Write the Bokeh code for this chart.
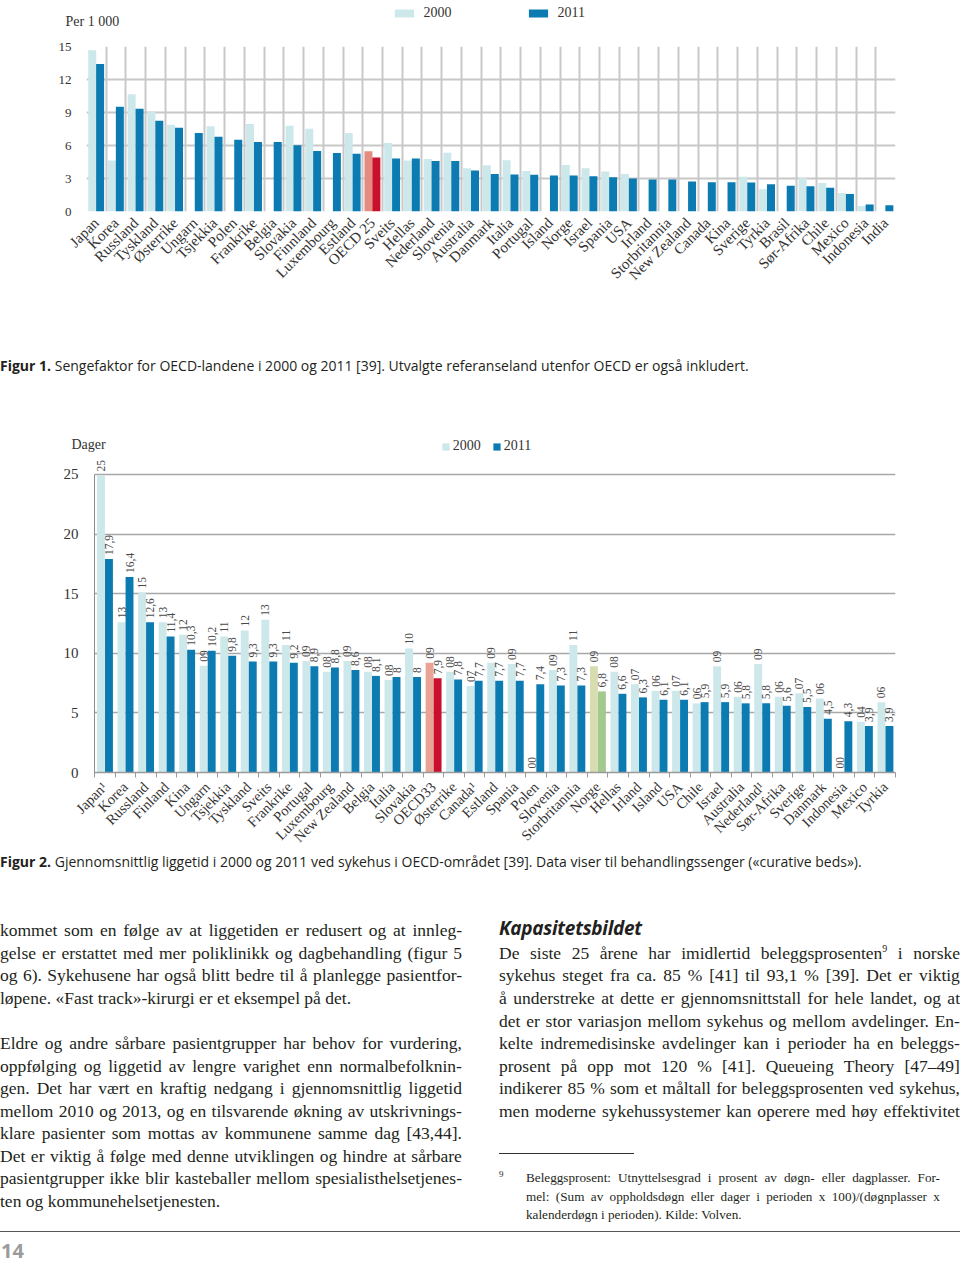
import math
from bokeh.plotting import figure
from bokeh.models import (ColumnDataSource, FactorRange, Range1d, FixedTicker, Grid,
                          LinearAxis, CategoricalAxis, Label, Div, Legend, LegendItem)
from bokeh.layouts import column
from bokeh.transform import dodge
from bokeh.embed import file_html
from bokeh.resources import INLINE
from bokeh.core.properties import value

NaN = float("nan")

# ---------------- Figure 1 data (sengefaktor, per 1 000) ----------------
fig1_countries = ["Japan", "Korea", "Russland", "Tyskland", "Østerrike", "Ungarn", "Tsjekkia",
                  "Polen", "Frankrike", "Belgia", "Slovakia", "Finnland", "Luxembourg", "Estland",
                  "OECD 25", "Sveits", "Hellas", "Nederland", "Slovenia", "Australia", "Danmark",
                  "Italia", "Portugal", "Island", "Norge", "Israel", "Spania", "USA", "Irland",
                  "Storbritannia", "New Zealand", "Canada", "Kina", "Sverige", "Tyrkia", "Brasil",
                  "Sør-Afrika", "Chile", "Mexico", "Indonesia", "India"]
fig1_2000 = [14.67, 4.63, 10.67, 9.07, 7.89, NaN, 7.74, NaN, 7.95, NaN, 7.80, 7.53, NaN, 7.14,
             5.47, 6.23, 4.63, 4.78, 5.35, 3.93, 4.20, 4.66, 3.69, NaN, 4.23, 3.93, 3.63, 3.42,
             NaN, NaN, NaN, NaN, NaN, 3.17, 2.03, NaN, 3.05, 2.60, 1.69, 0.51, NaN]
fig1_2011 = [13.40, 9.52, 9.34, 8.26, 7.62, 7.14, 6.80, 6.53, 6.32, 6.32, 6.02, 5.50, 5.32, 5.26,
             4.90, 4.81, 4.81, 4.60, 4.60, 3.72, 3.42, 3.36, 3.33, 3.27, 3.27, 3.21, 3.11, 2.99,
             2.90, 2.90, 2.72, 2.66, 2.66, 2.63, 2.48, 2.33, 2.30, 2.15, 1.60, 0.64, 0.57]
fig1_yticks = [0, 3, 6, 9, 12, 15]
fig1_highlight = "OECD 25"

# ---------------- Figure 2 data (liggetid, dager) ----------------
fig2_countries = ["Japan¹", "Korea", "Russland", "Finland", "Kina", "Ungarn", "Tsjekkia", "Tyskland",
                  "Sveits", "Frankrike", "Portugal", "Luxembourg", "New Zealand", "Belgia", "Italia",
                  "Slovakia", "OECD33", "Østerrike", "Canada¹", "Estland", "Spania", "Polen",
                  "Slovenia", "Storbritannia", "Norge", "Hellas", "Irland", "Island", "USA", "Chile",
                  "Israel", "Australia", "Nederland¹", "Sør-Afrika", "Sverige", "Danmark",
                  "Indonesia", "Mexico", "Tyrkia"]
fig2_2000 = [24.9, 12.6, 15.1, 12.6, 11.55, 8.95, 11.4, 11.9, 12.8, 10.7, 9.35, 8.45, 9.35, 8.45,
             7.75, 10.4, 9.2, 8.45, 7.25, 9.2, 9.1, NaN, 8.6, 10.7, 8.9, 8.45, 7.4, 6.85, 6.85,
             5.8, 8.9, 6.35, 9.1, 6.35, 6.65, 6.2, NaN, 4.25, 5.9]
fig2_2011 = [17.9, 16.4, 12.6, 11.4, 10.3, 10.2, 9.8, 9.3, 9.3, 9.2, 8.9, 8.8, 8.6, 8.1, 8.0, 8.0,
             7.9, 7.8, 7.7, 7.7, 7.7, 7.4, 7.3, 7.3, 6.8, 6.6, 6.3, 6.1, 6.1, 5.9, 5.9, 5.8, 5.8,
             5.6, 5.5, 4.5, 4.3, 3.9, 3.9]
fig2_labels2000 = ["25", "13", "15", "13", "12", "09", "11", "12", "13", "11", "09", "08", "09", "08",
                   "08", "10", "09", "08", "07", "09", "09", "00", "09", "11", "09", "08", "07", "06",
                   "07", "06", "09", "06", "09", "06", "07", "06", "00", "04", "06"]
fig2_yticks = [0, 5, 10, 15, 20, 25]
fig2_highlight = "OECD33"
fig2_norway = "Norge"

# ---------------- colours / fonts ----------------
LIGHT = "#cde8eb"
DARK = "#0b7bb2"
SERIF = "Liberation Serif"
TXT = "#231f20"
W = 960


def isnan(v):
    return v != v


def no_align(p):
    try:
        p.frame_align = False
    except Exception:
        pass
    return p


def header(height, src, unit_text, text_x, text_y, leg_x, leg_y, gw, gh, standoff, spacing):
    """Strip above a chart with the unit label and the legend (series drawn out of view)."""
    base = 100
    h = figure(width=W, height=height, x_range=Range1d(0, W), y_range=Range1d(base, base + height),
               output_backend="svg", toolbar_location=None, x_axis_location=None,
               y_axis_location=None, min_border=0, min_border_left=0, min_border_right=0,
               min_border_top=0, min_border_bottom=0)
    no_align(h)
    h.grid.visible = False
    h.outline_line_color = None
    ra = h.vbar(x="pos", top="v2000", width=0.4, source=src, fill_color="c2000", line_color=None)
    rb = h.vbar(x="pos", top="v2011", width=0.4, source=src, fill_color="c2011", line_color=None)
    h.add_layout(Label(x=text_x, y=base + text_y, text=unit_text, text_font=SERIF,
                       text_font_size="14px", text_color="#333333", text_baseline="middle"))
    lg = Legend(items=[LegendItem(label="2000", renderers=[ra], index=0),
                       LegendItem(label="2011", renderers=[rb], index=0)],
                orientation="horizontal", location=(leg_x, leg_y), glyph_width=gw, glyph_height=gh,
                label_standoff=standoff, spacing=spacing, padding=0, margin=0,
                border_line_color=None, background_fill_alpha=0, label_text_font=SERIF,
                label_text_font_size="14px", label_text_color="#333333", label_height=12)
    h.add_layout(lg)
    return h


# =============== FIGURE 1 ===============
n1 = len(fig1_countries)
c1_2000 = ["#e58c80" if c == fig1_highlight else LIGHT for c in fig1_countries]
c1_2011 = ["#c8102e" if c == fig1_highlight else DARK for c in fig1_countries]
src1 = ColumnDataSource(dict(country=fig1_countries, pos=list(range(n1)), v2000=fig1_2000,
                             v2011=fig1_2011, c2000=c1_2000, c2011=c1_2011))

hdr1 = header(40, src1, "Per 1 000", 65, 19, 391.6, 19.5, 24, 10, 8, 74)

p1 = no_align(figure(width=W, height=318, x_range=FactorRange(*fig1_countries, range_padding=0),
                     y_range=Range1d(0, 15), output_backend="svg", toolbar_location=None,
                     min_border_left=86, min_border_right=65, min_border_top=6,
                     min_border_bottom=147))
p1.outline_line_color = None

p1.vbar(x=dodge("country", -0.21, range=p1.x_range), top="v2000", width=0.405, source=src1,
        fill_color="c2000", line_color=None)
p1.vbar(x=dodge("country", 0.19, range=p1.x_range), top="v2011", width=0.405, source=src1,
        fill_color="c2011", line_color=None)

p1.xgrid.visible = False
p1.ygrid.ticker = FixedTicker(ticks=fig1_yticks)
p1.ygrid.grid_line_color = "#c8c8c8"
p1.ygrid.grid_line_width = 2
# vertical lines at the boundaries between categories (synthetic coordinates 0..n)
p1.add_layout(Grid(dimension=0, ticker=FixedTicker(ticks=list(range(n1 + 1))),
                   grid_line_color="#c8c8c8", grid_line_width=2))

p1.yaxis.ticker = FixedTicker(ticks=fig1_yticks)
p1.yaxis.axis_line_color = None
p1.yaxis.major_tick_line_color = None
p1.yaxis.minor_tick_line_color = None
p1.yaxis.major_label_standoff = 9
p1.yaxis.major_label_text_font = SERIF
p1.yaxis.major_label_text_font_size = "13px"
p1.yaxis.major_label_text_color = "#333333"

p1.xaxis.axis_line_color = None
p1.xaxis.major_tick_line_color = None
p1.xaxis.major_label_orientation = math.pi / 4
p1.xaxis.major_label_standoff = 3
p1.xaxis.major_label_text_font = SERIF
p1.xaxis.major_label_text_font_size = "15px"
p1.xaxis.major_label_text_color = "#333333"

# =============== FIGURE 2 ===============
n2 = len(fig2_countries)
c2_2000 = ["#e9a394" if c == fig2_highlight else ("#d7ddb1" if c == fig2_norway else LIGHT)
           for c in fig2_countries]
c2_2011 = ["#c8102e" if c == fig2_highlight else ("#a4c98f" if c == fig2_norway else DARK)
           for c in fig2_countries]
lab2000_y = [0 if isnan(v) else v for v in fig2_2000]
lab2011 = [("%g" % v).replace(".", ",") for v in fig2_2011]
src2 = ColumnDataSource(dict(country=fig2_countries, pos=list(range(n2)), v2000=fig2_2000,
                             v2011=fig2_2011, c2000=c2_2000, c2011=c2_2011, l2000=fig2_labels2000,
                             y2000=lab2000_y, l2011=lab2011))

hdr2 = header(73, src2, "Dager", 71, 11, 440.8, 1, 9, 9, 3, 11)

p2 = no_align(figure(width=W, height=399, x_range=FactorRange(*fig2_countries, range_padding=0),
                     y_range=Range1d(0, 26.5), output_backend="svg", toolbar_location=None,
                     x_axis_location=None, min_border_left=94, min_border_right=65,
                     min_border_top=1, min_border_bottom=82))
p2.outline_line_color = None

p2.vbar(x=dodge("country", -0.185, range=p2.x_range), top="v2000", width=0.385, source=src2,
        fill_color="c2000", line_color=None)
p2.vbar(x=dodge("country", 0.205, range=p2.x_range), top="v2011", width=0.385, source=src2,
        fill_color="c2011", line_color=None)

p2.text(x=dodge("country", -0.185, range=p2.x_range), y="y2000", text="l2000", source=src2,
        angle=math.pi / 2, text_align="left", text_baseline="middle", y_offset=-4,
        text_font=value(SERIF), text_font_size="11.5px", text_color="#4a4a4a")
p2.text(x=dodge("country", 0.205, range=p2.x_range), y="v2011", text="l2011", source=src2,
        angle=math.pi / 2, text_align="left", text_baseline="middle", y_offset=-4,
        text_font=value(SERIF), text_font_size="11.5px", text_color="#4a4a4a")

p2.xgrid.visible = False
p2.ygrid.ticker = FixedTicker(ticks=fig2_yticks[1:])
p2.ygrid.grid_line_color = "#a8a8a8"
p2.ygrid.grid_line_width = 1.6

p2.yaxis.ticker = FixedTicker(ticks=fig2_yticks)
p2.yaxis.bounds = (fig2_yticks[0], fig2_yticks[-1])
p2.yaxis.axis_line_color = "#8c8c8c"
p2.yaxis.axis_line_width = 1
p2.yaxis.major_tick_line_color = None
p2.yaxis.minor_tick_line_color = None
p2.yaxis.major_label_standoff = 10
p2.yaxis.major_label_text_font = SERIF
p2.yaxis.major_label_text_font_size = "15px"
p2.yaxis.major_label_text_color = "#333333"

# tick marks between the categories, then the category names below them
tick_axis = LinearAxis(ticker=FixedTicker(ticks=list(range(n2 + 1))),
                       major_label_text_font_size="1px", major_label_text_color=None,
                       major_label_standoff=0, major_tick_in=0, major_tick_out=5,
                       major_tick_line_color="#9a9a9a", minor_tick_line_color=None,
                       axis_line_color="#9a9a9a", axis_line_width=1.6)
cat_axis = CategoricalAxis(axis_line_color=None, major_tick_line_color=None,
                           major_label_orientation=math.pi / 4, major_label_standoff=1,
                           major_label_text_font=SERIF, major_label_text_font_size="14.5px",
                           major_label_text_color="#333333")
p2.add_layout(tick_axis, "below")
p2.add_layout(cat_axis, "below")

# =============== TEXT ===============
SANS = "'Open Sans'"


def caption(num, rest):
    return ('<div style="position:relative;width:%dpx;height:24px;">'
            '<div style="position:absolute;left:0px;top:0px;line-height:16px;white-space:nowrap;'
            'font-family:%s;font-size:14px;color:%s;"><b>Figur %s.</b> %s</div></div>'
            % (W, SANS, TXT, num, rest))


cap1 = Div(text=caption("1", "Sengefaktor for OECD-landene i 2000 og 2011 [39]. Utvalgte referanseland "
                             "utenfor OECD er også inkludert."), width=W, height=24, margin=0)
cap2 = Div(text=caption("2", "Gjennomsnittlig liggetid i 2000 og 2011 ved sykehus i OECD-området [39]. "
                             "Data viser til behandlingssenger («curative beds»)."), width=W, height=24,
           margin=0)

TOP0 = 878
BODY_H = 1267 - TOP0
BODY = "font-family:'%s';font-size:17.5px;color:%s;" % (SERIF, TXT)
FOOT = "font-family:'%s';font-size:13.2px;color:%s;" % (SERIF, TXT)
SUP = '<sup style="font-size:10px;line-height:0;">9</sup>'


def line(text, x, cy, w, lh, style, justify=True):
    top = cy - lh / 2 - TOP0
    base = ("position:absolute;left:%.1fpx;top:%.1fpx;width:%dpx;height:%dpx;line-height:%dpx;"
            "white-space:nowrap;%s" % (x, top, w, lh, lh, style))
    if justify:
        spans = "".join("<span>%s</span>" % wd.replace("§", SUP) for wd in text.split(" "))
        return '<div style="%sdisplay:flex;justify-content:space-between;">%s</div>' % (base, spans)
    return '<div style="%s">%s</div>' % (base, text)


left_lines = [
    ("kommet som en følge av at liggetiden er redusert og at innleg-", 930, True),
    ("gelse er erstattet med mer poliklinikk og dagbehandling (figur 5", 952.7, True),
    ("og 6). Sykehusene har også blitt bedre til å planlegge pasientfor-", 975.3, True),
    ("løpene. «Fast track»-kirurgi er et eksempel på det.", 998, False),
    ("Eldre og andre sårbare pasientgrupper har behov for vurdering,", 1043.3, True),
    ("oppfølging og liggetid av lengre varighet enn normalbefolknin-", 1065.8, True),
    ("gen. Det har vært en kraftig nedgang i gjennomsnittlig liggetid", 1088.3, True),
    ("mellom 2010 og 2013, og en tilsvarende økning av utskrivnings-", 1110.8, True),
    ("klare pasienter som mottas av kommunene samme dag [43,44].", 1133.3, True),
    ("Det er viktig å følge med denne utviklingen og hindre at sårbare", 1155.8, True),
    ("pasientgrupper ikke blir kasteballer mellom spesialisthelsetjenes-", 1178.3, True),
    ("ten og kommunehelsetjenesten.", 1200.8, False),
]
right_lines = [
    ("De siste 25 årene har imidlertid beleggsprosenten§ i norske", 952.7),
    ("sykehus steget fra ca. 85 % [41] til 93,1 % [39]. Det er viktig", 975.3),
    ("å understreke at dette er gjennomsnittstall for hele landet, og at", 998),
    ("det er stor variasjon mellom sykehus og mellom avdelinger. En-", 1020.5),
    ("kelte indremedisinske avdelinger kan i perioder ha en beleggs-", 1043),
    ("prosent på opp mot 120 % [41]. Queueing Theory [47–49]", 1065.5),
    ("indikerer 85 % som et måltall for beleggsprosenten ved sykehus,", 1088),
    ("men moderne sykehussystemer kan operere med høy effektivitet", 1110.7),
]
foot_lines = [
    ("Beleggsprosent: Utnyttelsesgrad i prosent av døgn- eller dagplasser. For-", 1178, True),
    ("mel: (Sum av oppholdsdøgn eller dager i perioden x 100)/(døgnplasser x", 1196.7, True),
    ("kalenderdøgn i perioden). Kilde: Volven.", 1215.3, False),
]

parts = []
for t, cy, j in left_lines:
    parts.append(line(t, 0, cy, 462, 22, BODY, j))
parts.append(line("Kapasitetsbildet", 499, 928, 300, 24,
                  "font-family:%s;font-size:19px;font-weight:bold;font-style:italic;color:%s;"
                  "letter-spacing:-0.3px;" % (SANS, TXT), False))
for t, cy in right_lines:
    parts.append(line(t, 499, cy, 461, 22, BODY, True))
parts.append('<div style="position:absolute;left:499px;top:%.1fpx;width:135px;height:0px;'
             'border-top:1px solid #333;"></div>' % (1152.5 - TOP0))
parts.append(line('<span style="font-size:9px;">9</span>', 499, 1173, 20, 14, FOOT, False))
for t, cy, j in foot_lines:
    parts.append(line(t, 526, cy, 414, 18, FOOT, j))
parts.append('<div style="position:absolute;left:0px;top:%.1fpx;width:%dpx;height:0px;'
             'border-top:1.5px solid #555;"></div>' % (1231 - TOP0, W))
parts.append(line("14", 1, 1251, 40, 26,
                  "font-family:%s;font-size:20px;font-weight:bold;color:#9b9b9b;" % SANS, False))

body_html = ('<div style="position:relative;width:%dpx;height:%dpx;">%s</div>'
             % (W, BODY_H, "".join(parts)))
body = Div(text=body_html, width=W, height=BODY_H, margin=0)

layout = column(hdr1, p1, cap1, hdr2, p2, cap2, body, spacing=0)

open("out.html", "w").write(file_html(layout, INLINE))
